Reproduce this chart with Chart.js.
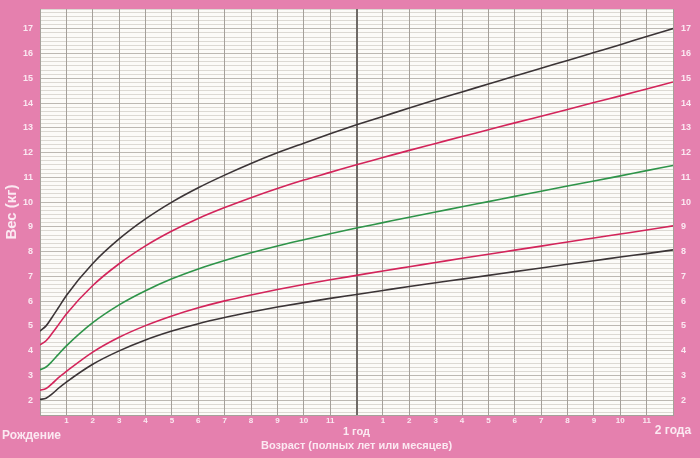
<!DOCTYPE html>
<html><head><meta charset="utf-8">
<script src="https://cdn.jsdelivr.net/npm/chart.js@4"></script>
<style>html,body{margin:0;padding:0;background:#e580ae;}#wrap{width:700px;height:458px;position:relative;}</style>
</head><body><div id="wrap"><canvas id="c"></canvas></div>
<script>
// Age in months
const months = [0,0.23,0.46,0.69,1,2,3,4,5,6,7,8,9,10,11,12,13,14,15,16,17,18,19,20,21,22,23,24];
// Weight (kg) curves
const sdMinus3 = [2.03,2.08,2.25,2.47,2.73,3.45,3.99,4.43,4.79,5.09,5.34,5.56,5.76,5.94,6.11,6.27,6.43,6.59,6.74,6.89,7.04,7.19,7.34,7.49,7.63,7.78,7.92,8.07];
const sdMinus2 = [2.40,2.47,2.67,2.90,3.16,3.94,4.54,5.01,5.40,5.73,6.01,6.25,6.47,6.67,6.86,7.04,7.22,7.39,7.56,7.73,7.89,8.06,8.22,8.39,8.55,8.71,8.87,9.04];
const median   = [3.23,3.34,3.57,3.84,4.19,5.13,5.85,6.42,6.90,7.30,7.64,7.95,8.23,8.48,8.72,8.95,9.17,9.39,9.60,9.81,10.02,10.23,10.44,10.65,10.85,11.06,11.27,11.48];
const sdPlus2  = [4.23,4.40,4.70,5.03,5.48,6.63,7.51,8.23,8.83,9.34,9.78,10.18,10.55,10.89,11.20,11.51,11.80,12.09,12.37,12.65,12.92,13.20,13.47,13.74,14.02,14.29,14.57,14.85];
const sdPlus3  = [4.79,5.00,5.35,5.72,6.23,7.52,8.51,9.32,10.00,10.58,11.09,11.56,11.99,12.38,12.76,13.12,13.46,13.80,14.13,14.45,14.77,15.09,15.41,15.72,16.04,16.36,16.69,17.01];
// Axis texts
const yTickLabels = [2,3,4,5,6,7,8,9,10,11,12,13,14,15,16,17];
const xTitle = 'Возраст (полных лет или месяцев)';
const yTitle = 'Вес (кг)';
const birthLabel = 'Рождение';
const oneYearLabel = '1 год';
const twoYearLabel = '2 года';

const toPts = arr => arr.map((v,i)=>({x:months[i], y:v}));
const LABEL = '#fbe9f2';
const FONT = '"Liberation Sans", Arial, sans-serif';

const series = [
  {data: sdPlus3, color:'#3b3436'},
  {data: sdPlus2, color:'#d3245a'},
  {data: median, color:'#2e9449'},
  {data: sdMinus2, color:'#d3245a'},
  {data: sdMinus3, color:'#3b3436'}
];

const bgPlugin = {
  id:'bg',
  beforeDraw(chart){
    const {ctx, chartArea:a} = chart;
    ctx.save();
    ctx.fillStyle = '#fcfbf8';
    ctx.fillRect(a.left, a.top, a.right-a.left, a.bottom-a.top);
    ctx.restore();
  },
  afterDraw(chart){
    const ctx = chart.ctx, xs = chart.scales.x;
    ctx.save();
    ctx.fillStyle = LABEL;
    ctx.textBaseline = 'middle';
    ctx.font = 'bold 12px ' + FONT;
    ctx.textAlign = 'left';
    ctx.fillText(birthLabel, 2, 436);
    ctx.textAlign = 'center';
    ctx.fillText(twoYearLabel, xs.getPixelForValue(24), 431);
    ctx.font = 'bold 11px ' + FONT;
    ctx.fillText(oneYearLabel, xs.getPixelForValue(12), 432);
    ctx.restore();
  }
};

function fineTicks(scale){
  const t = [{value: scale.min}];
  for(let k=Math.ceil(scale.min*6); k<=Math.floor(scale.max*6); k++){
    t.push({value: k/6});
  }
  t.push({value: scale.max});
  scale.ticks = t;
}
const isInt = v => Math.abs(v-Math.round(v))<1e-6;
const yLabel = v => (isInt(v) && yTickLabels.includes(Math.round(v))) ? String(Math.round(v)) : '';
const fitY = w => s => { s.width = w; s.paddingTop = 0; s.paddingBottom = 0; };

new Chart(document.getElementById('c'), {
  type:'line',
  data:{
    datasets: series.map(s=>({
      data: toPts(s.data),
      borderColor: s.color,
      borderWidth: 1.6,
      pointRadius: 0,
      cubicInterpolationMode:'monotone',
      fill:false
    }))
  },
  options:{
    responsive:true,
    maintainAspectRatio:false,
    animation:false,
    layout:{padding:{top:9,left:0,right:0,bottom:0}},
    plugins:{legend:{display:false}, tooltip:{enabled:false}},
    scales:{
      x:{
        type:'linear', min:0, max:24,
        afterFit(s){ s.height = 43; },
        ticks:{stepSize:1, autoSkip:false, maxRotation:0, padding:1,
          color:LABEL, font:{family:FONT, size:8, weight:'bold'},
          callback:v=> (v%12===0) ? '' : String(v%12)},
        grid:{z:-1, drawTicks:false,
          color:c=> c.tick && c.tick.value===12 ? '#6f6a66' : '#a5a09a',
          lineWidth:c=> c.tick && c.tick.value===12 ? 2 : 1},
        border:{color:'#a5a09a'},
        title:{display:true, text:xTitle, color:LABEL,
          font:{family:FONT, size:11, weight:'bold'}, padding:{top:0,bottom:5}}
      },
      y:{
        type:'linear', position:'left', min:1.4, max:17.8,
        afterBuildTicks: fineTicks,
        afterFit: fitY(40),
        ticks:{autoSkip:false, padding:7, color:LABEL,
          font:{family:FONT, size:9, weight:'bold'}, callback:yLabel},
        grid:{z:-3, drawTicks:false,
          color:c=> (c.tick && isInt(c.tick.value)) ? '#bcb8b2' : '#dcd9d3',
          lineWidth:1},
        border:{color:'#a5a09a'},
        title:{display:true, text:yTitle, color:LABEL,
          font:{family:FONT, size:15, weight:'bold'}, padding:{top:3,bottom:0}}
      },
      y2:{
        type:'linear', position:'right', min:1.4, max:17.8,
        afterBuildTicks: fineTicks,
        afterFit: fitY(27),
        ticks:{autoSkip:false, padding:8, color:LABEL,
          font:{family:FONT, size:9, weight:'bold'}, callback:yLabel},
        grid:{z:-3, display:false, drawTicks:false},
        border:{color:'#a5a09a'}
      }
    }
  },
  plugins:[bgPlugin]
});
</script>
</body></html>
